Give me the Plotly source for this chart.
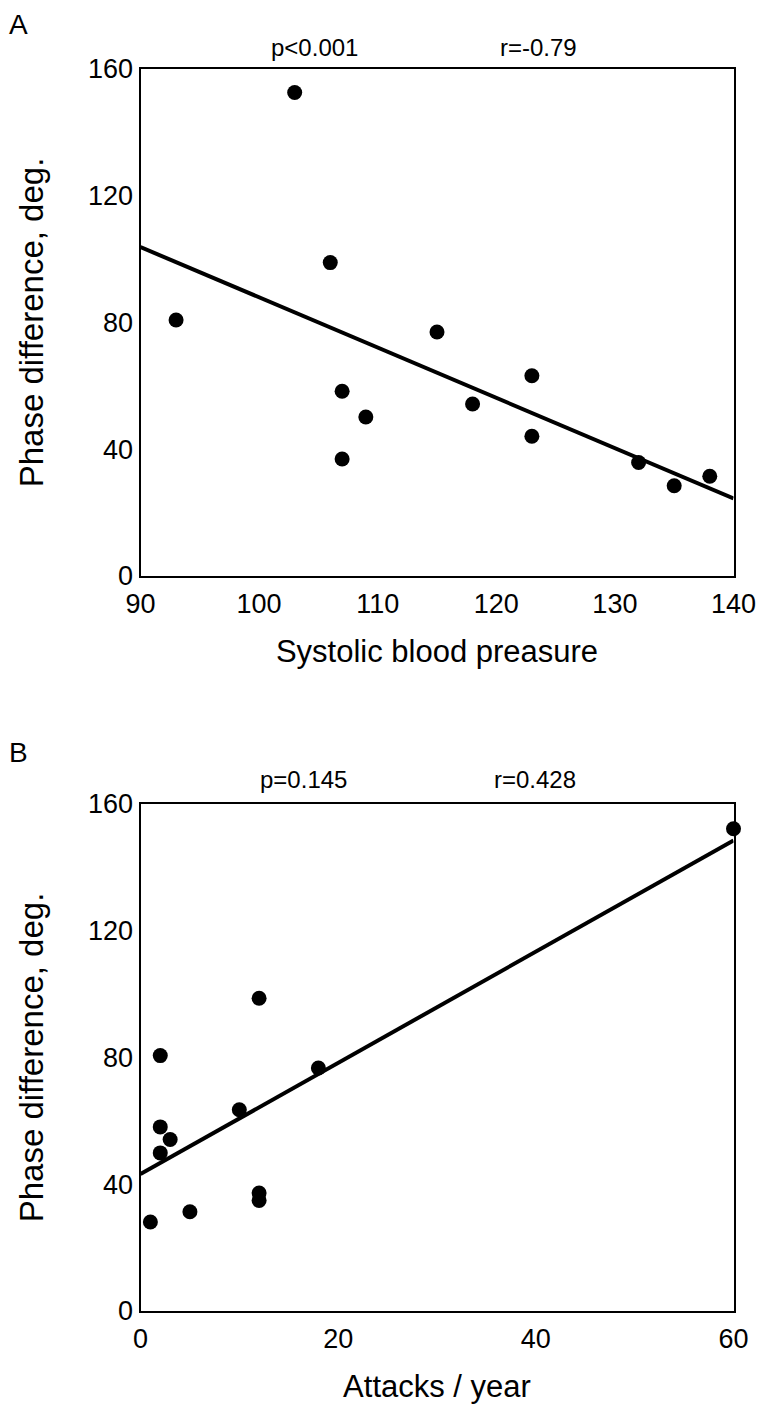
import plotly.graph_objects as go

# Panel A: systolic blood pressure vs phase difference
sbp = [103, 93, 106, 107, 109, 107, 115, 118, 123, 123, 132, 135, 138]
phase_a = [152.6, 80.8, 98.9, 58.3, 50.2, 36.9, 77.0, 54.3, 63.2, 44.1, 35.8, 28.5, 31.5]
fit_a_x = [90, 140]
fit_a_y = [103.8, 24.5]

# Panel B: attacks per year vs phase difference
attacks = [60, 12, 2, 18, 10, 2, 3, 2, 12, 12, 5, 1]
phase_b = [152.2, 98.7, 80.6, 76.7, 63.5, 58.1, 54.1, 49.9, 37.2, 34.9, 31.3, 28.1]
fit_b_x = [0, 60]
fit_b_y = [43.2, 148.5]

y_ticks = [0, 40, 80, 120, 160]
x_ticks_a = [90, 100, 110, 120, 130, 140]
x_ticks_b = [0, 20, 40, 60]

FONT = "Liberation Sans, Arial, sans-serif"
W, H = 765, 1408
OFF = 8  # page body margin

fig = go.Figure()
marker = dict(color="black", size=15)
line = dict(color="black", width=4)

fig.add_trace(go.Scatter(x=fit_a_x, y=fit_a_y, mode="lines", line=line,
                         xaxis="x", yaxis="y", showlegend=False, cliponaxis=False))
fig.add_trace(go.Scatter(x=sbp, y=phase_a, mode="markers", marker=marker,
                         xaxis="x", yaxis="y", showlegend=False, cliponaxis=False))
fig.add_trace(go.Scatter(x=fit_b_x, y=fit_b_y, mode="lines", line=line,
                         xaxis="x2", yaxis="y2", showlegend=False, cliponaxis=False))
fig.add_trace(go.Scatter(x=attacks, y=phase_b, mode="markers", marker=marker,
                         xaxis="x2", yaxis="y2", showlegend=False, cliponaxis=False))

def px_x(p):
    return (p - OFF) / W

def px_y(p):
    return 1 - (p - OFF) / H

axis_common = dict(showline=True, linecolor="black", linewidth=2, mirror=True,
                   showgrid=False, zeroline=False, automargin=False,
                   tickfont=dict(family=FONT, size=27, color="black"))
x_common = dict(ticks="outside", ticklen=3, tickcolor="rgba(0,0,0,0)", **axis_common)
y_common = dict(ticks="", **axis_common)

XT = dict(size=31)
YT = dict(size=33)
xdom = [px_x(140.5), px_x(733.5)]
fig.update_layout(
    template="none",
    width=W, height=H,
    margin=dict(l=0, r=0, t=0, b=0),
    paper_bgcolor="white", plot_bgcolor="white",
    font=dict(family=FONT, color="black"),
    xaxis=dict(domain=xdom, range=[90, 140], tickvals=x_ticks_a, anchor="y",
               title=dict(text="Systolic blood preasure", font=XT, standoff=22),
               **x_common),
    yaxis=dict(domain=[px_y(576), px_y(69)], range=[0, 160], tickvals=y_ticks, anchor="x",
               title=dict(text="Phase difference, deg.", font=YT, standoff=34),
               **y_common),
    xaxis2=dict(domain=xdom, range=[0, 60], tickvals=x_ticks_b, anchor="y2",
                title=dict(text="Attacks / year", font=XT, standoff=22),
                **x_common),
    yaxis2=dict(domain=[px_y(1311), px_y(804)], range=[0, 160], tickvals=y_ticks, anchor="x2",
                title=dict(text="Phase difference, deg.", font=YT, standoff=34),
                **y_common),
)

ann_font = dict(family=FONT, size=24, color="black")
panel_font = dict(family=FONT, size=28, color="black")
annotations = [
    dict(text="A", x=px_x(8), y=px_y(8), xanchor="left", yanchor="top", borderpad=0, font=panel_font),
    dict(text="p<0.001", x=px_x(314), y=px_y(47), xanchor="center", yanchor="middle", font=ann_font),
    dict(text="r=-0.79", x=px_x(538), y=px_y(47), xanchor="center", yanchor="middle", font=ann_font),
    dict(text="B", x=px_x(8), y=px_y(752), xanchor="left", yanchor="middle", borderpad=0, font=panel_font),
    dict(text="p=0.145", x=px_x(303), y=px_y(779), xanchor="center", yanchor="middle", font=ann_font),
    dict(text="r=0.428", x=px_x(535), y=px_y(779), xanchor="center", yanchor="middle", font=ann_font),
]
for a in annotations:
    a.update(xref="paper", yref="paper", showarrow=False)
fig.update_layout(annotations=annotations)

fig.write_html("out.html")
